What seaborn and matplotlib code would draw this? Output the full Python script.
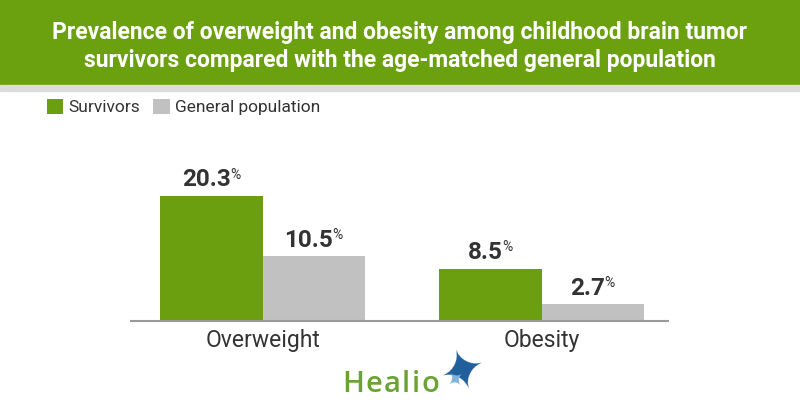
import matplotlib
matplotlib.use("Agg")
import matplotlib.pyplot as plt
from matplotlib.patches import Rectangle
import pandas as pd
import seaborn as sns

# data
categories = ["Overweight", "Obesity"]
groups = ["Survivors", "General population"]
survivors = [20.3, 8.5]
general_population = [10.5, 2.7]

title_lines = [
    "Prevalence of overweight and obesity among childhood brain tumor",
    "survivors compared with the age-matched general population",
]

GREEN = "#6b9f10"
GREY = "#c1c1c1"
DARK = "#333333"
NARROW = ["Liberation Sans Narrow", "Roboto", "DejaVu Sans"]
ROBOTO = ["Roboto", "DejaVu Sans"]


def build_frame() -> pd.DataFrame:
    rows = []
    for cat, s, g in zip(categories, survivors, general_population):
        rows.append({"category": cat, "group": groups[0], "value": s})
        rows.append({"category": cat, "group": groups[1], "value": g})
    return pd.DataFrame(rows)


def draw_logo(fig, renderer, W, H):
    # "Healio" with a little letter spacing, then the star
    x = 342
    for ch in "Healio":
        t = fig.text(x / W, 1 - 392 / H, ch, ha="left", va="baseline", fontsize=21,
                     fontweight="semibold", color="#6aa334",
                     family=["Open Sans", "Lato", "DejaVu Sans"])
        x += t.get_window_extent(renderer).width + 1.5
    fig.text(464 / W, 1 - 374 / H, "\u2726", ha="center", va="center", fontsize=40,
             color="#1f5d9c", rotation=18, family="DejaVu Sans")
    fig.text(457 / W, 1 - 380 / H, "\u2726", ha="center", va="center", fontsize=15,
             color="#7fb3dd", rotation=40, family="DejaVu Sans")


def main():
    sns.set_style("white")
    plt.rcParams["font.family"] = ROBOTO

    W, H = 800, 420
    fig = plt.figure(figsize=(W / 100, H / 100), dpi=100)

    # header band
    fig.patches.append(Rectangle((0, 1 - 85 / H), 1, 85 / H, transform=fig.transFigure,
                                 color="#6ba00f", zorder=0))
    fig.patches.append(Rectangle((0, 1 - 91 / H), 1, 6 / H, transform=fig.transFigure,
                                 color="#dcdcdc", zorder=0))
    for line, base in zip(title_lines, [39, 67]):
        fig.text(0.5, 1 - base / H, line, ha="center", va="baseline", color="white",
                 fontsize=16.5, fontweight="bold", family=NARROW)

    ax = fig.add_axes([131 / W, (H - 321) / H, 537 / W, 191 / H])
    df = build_frame()
    sns.barplot(data=df, x="category", y="value", hue="group", order=categories,
                hue_order=groups, palette=[GREEN, GREY], width=0.735, saturation=1,
                linewidth=0, ax=ax)
    handles, labels = ax.get_legend_handles_labels()
    ax.get_legend().remove()

    ax.set_xlim(-0.472, 1.453)
    ax.set_ylim(0, 31)
    ax.set_xlabel("")
    ax.set_ylabel("")
    ax.set_yticks([])
    for side in ["left", "top", "right"]:
        ax.spines[side].set_visible(False)
    ax.spines["bottom"].set_color("#9a9a9a")
    ax.spines["bottom"].set_linewidth(1.5)
    ax.tick_params(axis="x", length=0, pad=6, labelsize=16.5, labelcolor=DARK)

    # value labels: bold number + small superscript percent sign
    fig.canvas.draw()
    renderer = fig.canvas.get_renderer()
    for cont in ax.containers:
        for bar in cont:
            x = bar.get_x() + bar.get_width() / 2
            v = bar.get_height()
            num = ax.annotate(f"{v:.1f}", xy=(x, v), xytext=(0, 7), textcoords="offset points",
                              ha="center", va="baseline", fontsize=17.5, fontweight="bold",
                              color=DARK, family=NARROW)
            pct = ax.annotate("%", xy=(x, v), xytext=(0, 7), textcoords="offset points",
                              ha="left", va="baseline", fontsize=10, color=DARK, family=NARROW)
            w_num = num.get_window_extent(renderer).width * 72 / fig.dpi
            w_pct = pct.get_window_extent(renderer).width * 72 / fig.dpi
            num.set_position((-w_pct / 2, 7))
            pct.set_position((w_num / 2 - w_pct / 2 - 0.5, 12.5))

    fig.legend(handles, labels, loc="upper left", bbox_to_anchor=(47 / W, 1 - 99 / H),
               ncol=2, frameon=False, prop={"family": ROBOTO, "size": 12.5},
               labelcolor=DARK, handlelength=0.95, handleheight=0.95,
               handletextpad=0.3, columnspacing=0.75, borderaxespad=0, borderpad=0)

    draw_logo(fig, renderer, W, H)

    fig.savefig("out.png", dpi=100)


if __name__ == "__main__":
    main()
